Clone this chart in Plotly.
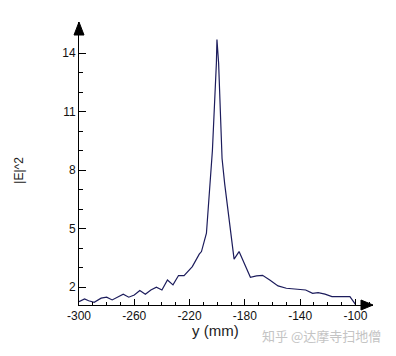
import plotly.graph_objects as go

# position along y (mm)
y_mm = [-300, -296, -293, -289, -284, -280, -276, -272, -268, -264, -260, -256,
        -252, -248, -244, -240, -236, -232, -228, -224, -218, -213, -211.4, -207.8,
        -205.9, -203.5, -200.6, -200.2, -199.0, -196.5, -194.6, -187.8, -184.2,
        -176, -171.6, -167.2, -162, -156, -150, -140, -136, -131, -127, -122,
        -117, -113.6, -104, -100]
# |E|^2 values
e2 = [1.26, 1.40, 1.31, 1.23, 1.44, 1.49, 1.35, 1.49, 1.64, 1.49, 1.60, 1.83,
      1.64, 1.86, 2.00, 1.86, 2.37, 2.12, 2.60, 2.60, 3.06, 3.70, 3.83, 4.77,
      6.82, 9.0, 13.5, 14.7, 13.5, 8.6, 7.3, 3.44, 3.83,
      2.51, 2.58, 2.61, 2.37, 2.07, 1.95, 1.91, 1.86, 1.69, 1.72, 1.65,
      1.52, 1.52, 1.52, 1.12]

x_ticks = [-300, -260, -220, -180, -140, -100]
y_ticks = [2, 5, 8, 11, 14]

fig = go.Figure()
fig.add_trace(go.Scatter(x=y_mm, y=e2, mode="lines",
                         line=dict(color="#1c1c5c", width=1.2),
                         hoverinfo="skip", showlegend=False))

# page body adds an 8px margin, so the figure is 8px smaller each way
W, H = 388, 348
L, R, T, B = 71, 23, 14, 51
pw, ph = W - L - R, H - T - B

font = "Liberation Sans, Arial, sans-serif"
fig.update_layout(
    width=W, height=H,
    margin=dict(l=L, r=R, t=T, b=B),
    paper_bgcolor="white", plot_bgcolor="white",
    font=dict(family=font, size=12, color="#111111"),
    xaxis=dict(range=[-300, -87.3], tickvals=x_ticks,
               ticktext=[str(v) for v in x_ticks],
               ticks="inside", ticklen=6, tickcolor="black", tickwidth=1,
               showline=True, linecolor="black", linewidth=1,
               showgrid=False, zeroline=False,
               minor=dict(dtick=10, tick0=0, ticks="inside", ticklen=3,
                          tickcolor="black", showgrid=False),
               tickfont=dict(size=12)),
    yaxis=dict(range=[1.09, 15.6], tickvals=y_ticks,
               ticks="inside", ticklen=7, tickcolor="black", tickwidth=1,
               showline=True, linecolor="black", linewidth=1,
               showgrid=False, zeroline=False,
               minor=dict(dtick=1, tick0=0, ticks="inside", ticklen=4,
                          tickcolor="black", showgrid=False),
               tickfont=dict(size=12)),
)

# arrowheads at the axis ends
fig.add_shape(type="path", xref="paper", yref="paper",
              path=f"M 0 1 L {-5/pw} {1-13/ph} L {5/pw} {1-13/ph} Z",
              fillcolor="black", line=dict(color="black", width=1))
fig.add_shape(type="path", xref="paper", yref="paper",
              path=f"M 1 0 L {1-12/pw} {5/ph} L {1-12/pw} {-5/ph} Z",
              fillcolor="black", line=dict(color="black", width=1))

# axis titles
fig.add_annotation(x=-201, y=-25 / ph, xref="x", yref="paper", text="y (mm)",
                   showarrow=False, xanchor="center", yanchor="middle",
                   font=dict(family=font, size=15, color="#222222"))
fig.add_annotation(x=-59.5 / pw, y=8, xref="paper", yref="y", text="|E|^2",
                   showarrow=False, textangle=-90,
                   xanchor="center", yanchor="middle",
                   font=dict(family=font, size=12, color="#222222"))
# watermark
fig.add_annotation(x=242.5 / pw, y=-30 / ph, xref="paper", yref="paper",
                   text="知乎 @达摩寺扫地僧", showarrow=False,
                   xanchor="center", yanchor="middle",
                   font=dict(family="Noto Sans CJK SC", size=13, color="#c4c4c4"))

fig.write_html("out.html")
